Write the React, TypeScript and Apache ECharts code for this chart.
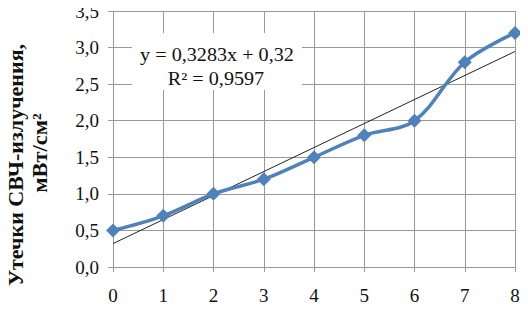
import React, { useEffect, useRef } from "react";
import * as echarts from "echarts";

const xValues = [0, 1, 2, 3, 4, 5, 6, 7, 8];
const leakage = [0.5, 0.7, 1.0, 1.2, 1.5, 1.8, 2.0, 2.8, 3.2];
const trendSlope = 0.3283;
const trendIntercept = 0.32;
const trendX = [0, 8];
const eqText = "y = 0,3283x + 0,32";
const r2Text = "R\u00b2 = 0,9597";
const yTitle1 = "Утечки СВЧ-излучения,";
const yTitle2 = "мВт/см\u00b2";

const fmt = (v: number) => v.toFixed(1).replace(".", ",");

export default function App() {
  const ref = useRef<HTMLDivElement>(null);
  useEffect(() => {
    if (!ref.current) return;
    const chart = echarts.init(ref.current, null, { renderer: "svg" });
    const font = "Times New Roman";
    const gridColor = "#999999";
    const txt = (text: string, x: number, y: number, size: number, bold: boolean, rot: number, sx: number) => ({
      type: "text",
      x,
      y,
      rotation: rot,
      scaleX: sx,
      z: 51,
      style: {
        text,
        fontFamily: font,
        fontSize: size,
        fontWeight: bold ? "bold" : "normal",
        fill: "#111",
        align: "center",
        verticalAlign: "middle",
      },
    });
    chart.setOption({
      animation: false,
      textStyle: { fontFamily: font },
      grid: { left: 113, right: 13, top: 11, bottom: 45 },
      xAxis: {
        type: "value",
        min: 0,
        max: 8,
        interval: 1,
        axisLine: { show: true, lineStyle: { color: gridColor, width: 1 } },
        axisTick: { show: true, length: 5, lineStyle: { color: gridColor } },
        splitLine: { show: true, lineStyle: { color: gridColor, width: 1 } },
        axisLabel: { color: "#111", fontSize: 19, fontFamily: font, margin: 19 },
      },
      yAxis: {
        type: "value",
        min: 0,
        max: 3.5,
        interval: 0.5,
        axisLine: { show: true, lineStyle: { color: gridColor, width: 1 } },
        axisTick: { show: true, length: 5, lineStyle: { color: gridColor } },
        splitLine: { show: true, lineStyle: { color: gridColor, width: 1 } },
        axisLabel: {
          color: "#111",
          fontSize: 19,
          fontFamily: font,
          margin: 14,
          formatter: (v: number) => fmt(v),
        },
      },
      graphic: [
        {
          type: "rect",
          shape: { x: 132, y: 33, width: 170, height: 57 },
          style: { fill: "#fff" },
          z: 50,
        },
        txt(eqText, 217, 55, 18, false, 0, 1.12),
        txt(r2Text, 216, 79, 18, false, 0, 1.12),
        txt(yTitle1, 15, 165, 22, true, Math.PI / 2, 1.0),
        txt(yTitle2, 40, 153, 22, true, Math.PI / 2, 1.02),
      ],
      series: [
        {
          type: "line",
          data: trendX.map((x) => [x, trendSlope * x + trendIntercept]),
          showSymbol: false,
          lineStyle: { color: "#222", width: 1 },
          z: 3,
        },
        {
          type: "line",
          data: xValues.map((x, i) => [x, leakage[i]]),
          smooth: 0.35,
          symbol: "diamond",
          symbolSize: 14,
          itemStyle: { color: "#4f81bd" },
          lineStyle: { color: "#4f81bd", width: 3.5 },
          z: 4,
        },
      ],
    });
    return () => chart.dispose();
  }, []);
  return <div ref={ref} style={{ width: 528, height: 312, margin: -8 }} />;
}
